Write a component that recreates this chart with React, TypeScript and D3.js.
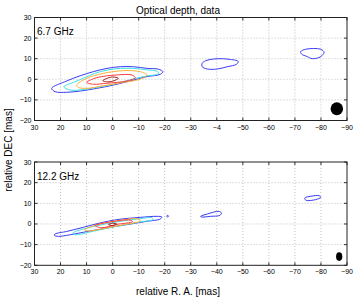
import React from "react";
import * as d3 from "d3";

type P = [number, number];

// Axes ticks
const xTicks = [30, 20, 10, 0, -10, -20, -30, -40, -50, -60, -70, -80, -90];
const xTickLabelsTop = ["30", "20", "10", "0", "−10", "−20", "−30", "−4", "−50", "−60", "−70", "−80", "−90"];
const xTickLabelsBottom = ["30", "20", "10", "0", "−10", "−20", "−30", "−40", "−50", "−60", "−70", "−80", "−90"];
const yTicks = [30, 20, 10, 0, -10, -20];
const yTickLabels = ["30", "20", "10", "0", "−10", "−20"];

// Contour level order: 0 blue, 1 cyan, 2 orange, 3 red, 4 dark red
const levelColors = ["#3b3bf5", "#3fe0e0", "#ffae3a", "#ff3c3c", "#a51e1e"];

// ---- 6.7 GHz contours (RA, DEC in mas) ----
const c67Blue: P[] = [
  [23.4, -4.4], [17.6, -0.8], [12.5, 1.7], [7.4, 3.7], [2.2, 5.3], [-2.9, 6.1], [-8.0, 6.1],
  [-13.2, 5.3], [-17.6, 4.9], [-19.3, 3.7], [-18.3, 2.4], [-13.2, 1.3], [-6.7, -0.8], [-0.3, -2.8],
  [6.1, -4.4], [12.5, -5.7], [17.6, -6.3], [22.1, -6.0],
];
const c67Cyan: P[] = [
  [18.7, -3.6], [15.1, -1.5], [11.2, 0.5], [7.0, 2.8], [2.0, 4.5], [-3.0, 5.3], [-8.0, 5.3],
  [-13.0, 4.6], [-17.0, 3.9], [-17.8, 3.0], [-16.5, 2.2], [-12.5, 1.5], [-6.5, -0.3], [0.0, -2.5],
  [6.0, -3.9], [11.2, -5.0], [16.3, -5.2],
];
const c67Orange: P[] = [
  [13.8, -2.8], [9.9, 0.5], [3.5, 2.9], [-4.2, 4.2], [-10.6, 3.7], [-13.2, 2.1], [-10.6, 0.1],
  [-4.2, -1.5], [3.5, -3.1], [9.9, -4.4], [13.2, -3.9],
];
const c67Red: P[] = [
  [9.9, -1.5], [6.1, 0.8], [-1.6, 2.1], [-7.4, 2.1], [-8.7, 0.8], [-5.5, -0.8], [2.2, -1.9], [7.4, -2.4],
];
const c67DarkRed: P[] = [
  [3.8, -0.7], [0.3, 1.1], [-2.2, 0.5], [1.0, -1.2],
];
const c67BlobMid: P[] = [
  [-34.4, 7.8], [-35.7, 9.0], [-40.2, 10.0], [-44.7, 9.7], [-48.2, 8.7], [-47.6, 7.3],
  [-44.0, 6.1], [-40.2, 5.0], [-36.3, 5.0], [-34.4, 6.1],
];
const c67BlobFar: P[] = [
  [-72.2, 13.4], [-74.2, 14.6], [-79.9, 14.6], [-81.2, 13.1], [-79.9, 11.0], [-76.7, 10.0],
  [-74.8, 11.0], [-72.5, 12.3],
];

// ---- 12.2 GHz contours ----
const c122Blue: P[] = [
  [22.1, -4.85], [17.6, -3.6], [11.2, -1.6], [4.8, 0.5], [-1.6, 2.1], [-10.6, 3.2], [-17.0, 3.7],
  [-18.9, 3.4], [-18.3, 2.4], [-13.2, 1.3], [-5.5, -0.3], [2.2, -1.9], [11.2, -4.0], [17.6, -5.5],
  [20.8, -6.0], [22.4, -5.5],
];
const c122BlueDot: P[] = [
  [-20.7, 3.8], [-21.1, 4.2], [-21.5, 3.8], [-21.1, 3.4],
];
const c122Cyan: P[] = [
  [15.3, -4.4], [8.7, -1.6], [-1.6, 1.0], [-10.6, 2.6], [-15.1, 3.0], [-15.5, 2.1], [-10.6, 1.0],
  [-1.6, -1.1], [7.4, -3.5], [14.4, -5.2],
];
const c122Orange: P[] = [
  [10.8, -2.9], [5.5, -0.2], [-3.5, 1.9], [-9.9, 2.4], [-10.6, 1.4], [-4.8, -0.2], [2.9, -2.1], [9.3, -3.4],
];
const c122Red: P[] = [
  [6.7, -0.8], [0.3, 1.1], [-6.7, 1.9], [-7.6, 1.1], [-1.6, -0.2], [4.2, -1.8],
];
const c122DarkRed: P[] = [
  [1.6, -0.3], [0.0, 0.3], [-1.6, 0.0], [0.0, -0.8],
];
const c122BlobMid: P[] = [
  [-33.8, 3.7], [-36.3, 4.8], [-40.8, 6.1], [-41.8, 5.3], [-41.2, 4.2], [-37.6, 3.7], [-34.0, 3.4],
];
const c122BlobFar: P[] = [
  [-73.8, 12.6], [-76.1, 13.4], [-79.3, 13.7], [-79.9, 12.9], [-78.0, 11.8], [-74.2, 11.5],
];

// Beams: [ra, dec, semi-axis RA (mas), semi-axis DEC (mas)]
const beam67 = [-86.1, -14.3, 2.4, 3.1];
const beam122 = [-87.0, -15.8, 1.2, 2.1];

const panels = [
  {
    label: "6.7 GHz",
    xLabels: xTickLabelsTop,
    contours: [
      { level: 0, pts: c67Blue }, { level: 1, pts: c67Cyan }, { level: 2, pts: c67Orange },
      { level: 3, pts: c67Red }, { level: 4, pts: c67DarkRed },
      { level: 0, pts: c67BlobMid }, { level: 0, pts: c67BlobFar },
    ],
    beam: beam67,
    top: 17.5,
    bottom: 120.5,
  },
  {
    label: "12.2 GHz",
    xLabels: xTickLabelsBottom,
    contours: [
      { level: 0, pts: c122Blue }, { level: 0, pts: c122BlueDot }, { level: 1, pts: c122Cyan },
      { level: 2, pts: c122Orange }, { level: 3, pts: c122Red }, { level: 4, pts: c122DarkRed },
      { level: 0, pts: c122BlobMid }, { level: 0, pts: c122BlobFar },
    ],
    beam: beam122,
    top: 162,
    bottom: 265.3,
  },
];

const FONT = "'Liberation Sans', Arial, Helvetica, sans-serif";
const LEFT = 34.5;
const RIGHT = 347;

function Panel({ p }: { p: (typeof panels)[number] }) {
  const x = d3.scaleLinear().domain([30, -90]).range([LEFT, RIGHT]);
  const y = d3.scaleLinear().domain([-20, 30]).range([p.bottom, p.top]);
  const line = d3
    .line<P>()
    .x((d) => x(d[0]))
    .y((d) => y(d[1]))
    .curve(d3.curveCatmullRomClosed.alpha(0.5));
  const [bx, by, brx, bry] = p.beam;
  return (
    <g>
      {/* grid */}
      {xTicks.slice(1, -1).map((t) => (
        <line key={"gx" + t} x1={x(t)} x2={x(t)} y1={p.top} y2={p.bottom}
          stroke="#b0b0b0" strokeWidth={0.8} strokeDasharray="1,2" />
      ))}
      {yTicks.slice(1, -1).map((t) => (
        <line key={"gy" + t} x1={LEFT} x2={RIGHT} y1={y(t)} y2={y(t)}
          stroke="#b0b0b0" strokeWidth={0.8} strokeDasharray="1,2" />
      ))}
      {/* contours */}
      {p.contours.map((c, i) => (
        <path key={"c" + i} d={line(c.pts) || ""} fill="none"
          stroke={levelColors[c.level]} strokeWidth={1} />
      ))}
      {/* beam */}
      <ellipse cx={x(bx)} cy={y(by)} rx={Math.abs(x(bx + brx) - x(bx))}
        ry={Math.abs(y(by + bry) - y(by))} fill="#000" />
      {/* ticks */}
      {xTicks.map((t) => (
        <g key={"tx" + t}>
          <line x1={x(t)} x2={x(t)} y1={p.bottom} y2={p.bottom - 3} stroke="#000" strokeWidth={0.8} />
          <line x1={x(t)} x2={x(t)} y1={p.top} y2={p.top + 3} stroke="#000" strokeWidth={0.8} />
        </g>
      ))}
      {yTicks.map((t) => (
        <g key={"ty" + t}>
          <line x1={LEFT} x2={LEFT + 3} y1={y(t)} y2={y(t)} stroke="#000" strokeWidth={0.8} />
          <line x1={RIGHT} x2={RIGHT - 3} y1={y(t)} y2={y(t)} stroke="#000" strokeWidth={0.8} />
        </g>
      ))}
      <rect x={LEFT} y={p.top} width={RIGHT - LEFT} height={p.bottom - p.top}
        fill="none" stroke="#222" strokeWidth={1} />
      {/* tick labels */}
      {xTicks.map((t, i) => (
        <text key={"lx" + t} x={x(t)} y={p.bottom + 9} textAnchor="middle"
          fontSize={7} fontFamily={FONT} fill="#000">{p.xLabels[i]}</text>
      ))}
      {yTicks.map((t, i) => (
        <text key={"ly" + t} x={LEFT - 3} y={y(t) + 2.5} textAnchor="end"
          fontSize={7} fontFamily={FONT} fill="#000">{yTickLabels[i]}</text>
      ))}
      <text x={37} y={p.top + 17.5} fontSize={10} fontFamily={FONT} fill="#000">{p.label}</text>
    </g>
  );
}

export default function App() {
  return (
    <svg width={354} height={298} style={{ position: "fixed", left: 0, top: 0, background: "#fff" }}>
      <rect x={0} y={0} width={354} height={298} fill="#fff" />
      <text x={178} y={14} textAnchor="middle" fontSize={10} fontFamily={FONT} fill="#000">
        Optical depth, data
      </text>
      {panels.map((p, i) => (
        <Panel key={i} p={p} />
      ))}
      <text transform="translate(12,150) rotate(-90)" textAnchor="middle" fontSize={10}
        fontFamily={FONT} fill="#000">relative DEC [mas]</text>
      <text x={178} y={295} textAnchor="middle" fontSize={10} fontFamily={FONT} fill="#000">
        relative R. A. [mas]
      </text>
    </svg>
  );
}
